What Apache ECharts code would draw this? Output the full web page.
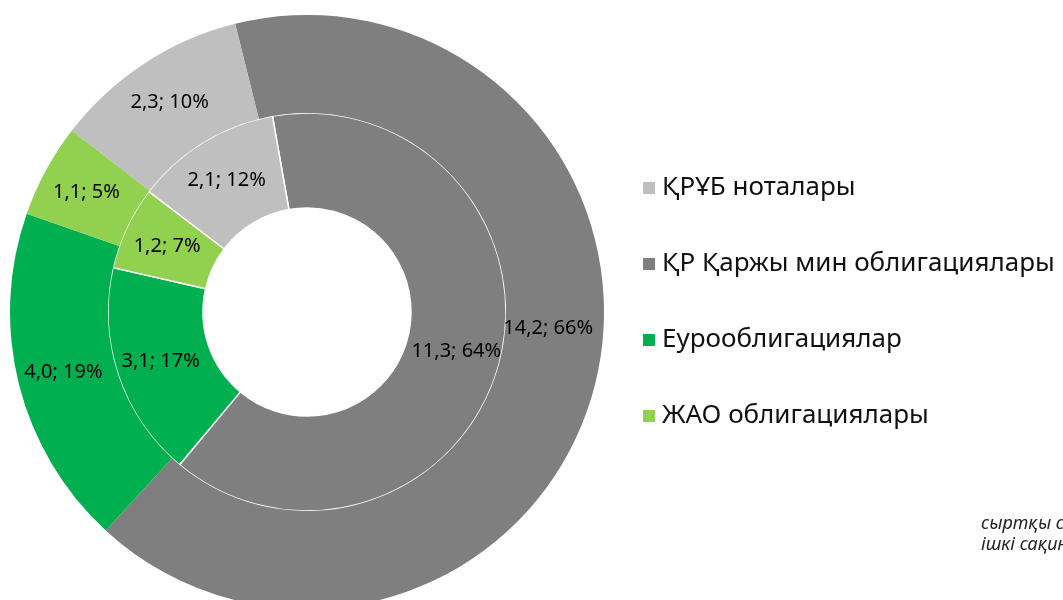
<!DOCTYPE html>
<html>
<head>
<meta charset="utf-8">
<script src="https://cdn.jsdelivr.net/npm/echarts@6/dist/echarts.min.js"></script>
<style>
    html, body { margin: 0; padding: 0; background: #fff; }
    #pie { width: 1063px; height: 600px; }
</style>
</head>
<body>
<div id="pie"></div>
<script>
// categories in the order the slices run clockwise
const categories = ['ҚР Қаржы мин облигациялары', 'Еурооблигациялар', 'ЖАО облигациялары', 'ҚРҰБ ноталары']
const legendOrder = ['ҚРҰБ ноталары', 'ҚР Қаржы мин облигациялары', 'Еурооблигациялар', 'ЖАО облигациялары']
const colors = ['#7f7f7f', '#00b050', '#92d050', '#bfbfbf']

// outer ring
const outerValues = [14.2, 4.0, 1.1, 2.3]
const outerShares = [66, 19, 5, 10]
// inner ring
const innerValues = [11.3, 3.1, 1.2, 2.1]
const innerShares = [64, 17, 7, 12]

const labelFont = {
    color: '#000',
    fontSize: 20,
    fontFamily: 'Noto Sans',
}

const makeData = function(values, shares) {
    return values.map((v, i) => {
        return {
            name: categories[i],
            value: v,
            share: shares[i],
            itemStyle: { color: colors[i] },
        }
    })
}

const labelText = function(p) {
    const v = p.value.toFixed(1).replace('.', ',')
    return v + '; ' + p.data.share + '%'
}

const outerData = makeData(outerValues, outerShares)
// the big outer label sits higher than its slice middle
outerData[0].label = { offset: [-2, -46] }

const option = {
    animation: false,
    title: {
        text: 'сыртқы сақина\nішкі сақина',
        left: 976,
        top: 508,
        textStyle: {
            fontSize: 18,
            fontStyle: 'italic',
            fontWeight: 'normal',
            color: '#222',
            fontFamily: 'Noto Sans',
            lineHeight: 21,
        },
    },
    legend: {
        orient: 'vertical',
        left: 636,
        top: 170,
        icon: 'rect',
        itemWidth: 14,
        itemHeight: 14,
        itemGap: 50,
        data: legendOrder,
        textStyle: {
            fontSize: 26,
            color: '#111',
            fontFamily: 'Noto Sans',
            padding: [0, 0, 0, 1],
        },
    },
    series: [
        {
            name: 'ішкі',
            type: 'pie',
            center: [307, 312],
            radius: [104, 199],
            startAngle: 100,
            clockwise: true,
            itemStyle: { borderColor: '#fff', borderWidth: 1.5 },
            label: {
                position: 'inside',
                formatter: labelText,
                ...labelFont,
            },
            labelLine: { show: false },
            emphasis: { disabled: true },
            data: makeData(innerValues, innerShares),
        },
        {
            name: 'сыртқы',
            type: 'pie',
            center: [307, 312],
            radius: [199, 297],
            startAngle: 104,
            clockwise: true,
            itemStyle: { borderWidth: 0 },
            label: {
                position: 'inside',
                formatter: labelText,
                ...labelFont,
            },
            labelLine: { show: false },
            emphasis: { disabled: true },
            data: outerData,
        },
    ],
}

const chart = echarts.init(document.getElementById('pie'))
chart.setOption(option)
</script>
</body>
</html>
